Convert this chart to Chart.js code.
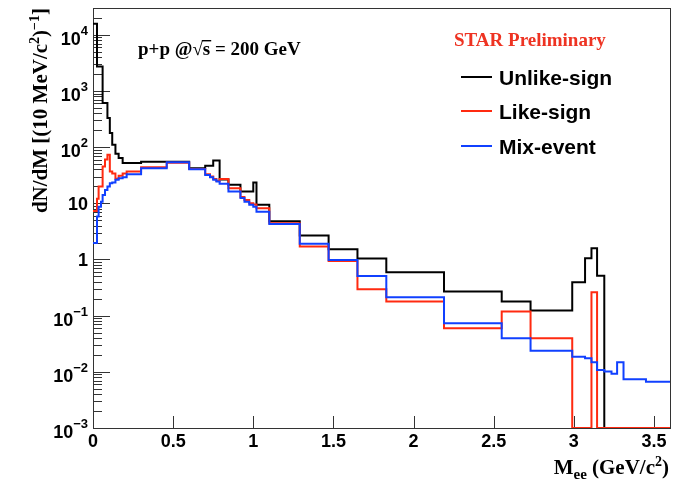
<!DOCTYPE html>
<html>
<head>
<meta charset="utf-8">
<script src="https://cdn.jsdelivr.net/npm/chart.js@4.4.0/dist/chart.umd.min.js"></script>
<style>
  html, body { margin: 0; padding: 0; background: #fff; }
  canvas { display: block; }
</style>
</head>
<body>
<canvas id="massChart" width="681" height="481"></canvas>
<script>
// dielectron invariant mass, p+p at 200 GeV
// variable bin edges in GeV/c^2 (fine binning near threshold)
const massEdges = [0, 0.025, 0.035, 0.05, 0.06, 0.075, 0.09, 0.105, 0.12, 0.14, 0.16, 0.185, 0.21, 0.30,
  0.46, 0.60, 0.70, 0.73, 0.75, 0.77, 0.79, 0.845, 0.92, 0.945, 0.975, 1.0, 1.02, 1.10, 1.29, 1.47,
  1.65, 1.83, 2.19, 2.55, 2.73, 2.99, 3.07, 3.11, 3.145, 3.19, 3.235, 3.27, 3.31, 3.45, 3.6];

// dN/dM per bin, 0 = empty bin
const unlikeSign = [15700, 2730, 2730, 2730, 608, 608, 329, 178, 110, 76, 64, 52, 52, 55,
  55, 42, 46.5, 46.5, 57.7, 57.7, 26.5, 21.3, 16.2, 16.2, 16.2, 23.4, 9.4, 4.77, 2.66,
  1.52, 1.04, 0.593, 0.268, 0.178, 0.123, 0.394, 1.05, 1.59, 0.516, 0, 0, 0, 0, 0];
const likeSign = [7.3, 12, 20, 20, 45, 60, 73, 37, 34, 27.5, 31, 34, 37, 44,
  53, 41, 33, 30, 27, 25, 27, 18.6, 13, 11.5, 10, 9.5, 8.2, 4.4, 1.70,
  0.94, 0.296, 0.178, 0.0597, 0.118, 0.0396, 0, 0, 0.261, 0, 0, 0, 0, 0, 0];
const mixEvent = [1.97, 5.8, 8.7, 10.7, 14.1, 17.3, 19.9, 22.8, 23.4, 26.2, 28, 29, 33, 42.3,
  54, 40.6, 32, 29.2, 26.2, 24.4, 22.2, 16.2, 12.4, 10.7, 9.4, 8.7, 7.1, 4.3, 1.90,
  0.98, 0.51, 0.213, 0.073, 0.0396, 0.0238, 0.0186, 0.0175, 0.0148, 0.0108, 0.0101, 0.0092, 0.0148, 0.00736, 0.00668];

const seriesNames = ["Unlike-sign", "Like-sign", "Mix-event"];
const seriesColors = ["#000000", "#ff2a10", "#1040ff"];

const yMin = 1e-3, yMax = 3e4;
const yDecades = [1e-3, 1e-2, 1e-1, 1, 10, 1e2, 1e3, 1e4];
// decade labels as [mantissa, exponent]
const yTickLabels = [["10", "-3"], ["10", "-2"], ["10", "-1"], ["1", ""], ["10", ""], ["10", "2"], ["10", "3"], ["10", "4"]];
const xMin = 0, xMax = 3.6;
const xTickLabels = ["0", "0.5", "1", "1.5", "2", "2.5", "3", "3.5"];

const SANS = '"Liberation Sans", Arial, Helvetica, sans-serif';
const SERIF = '"Liberation Serif", "Times New Roman", Times, serif';

// outline of a histogram as a polyline; empty bins sit on the axis floor
function histPoints(values) {
  const pts = [];
  values.forEach((v, i) => {
    const y = v > 0 ? v : yMin;
    pts.push({ x: massEdges[i], y: y }, { x: massEdges[i + 1], y: y });
  });
  return pts;
}

function histDataset(i, values) {
  return {
    label: seriesNames[i],
    data: histPoints(values),
    borderColor: seriesColors[i],
    borderWidth: 2,
    pointRadius: 0,
    tension: 0,
    fill: false,
    order: 3 - i
  };
}

// log ticks 1..9 x 10^k
const yTicks = [];
for (let e = -3; e <= 4; e++) {
  for (let m = 1; m <= 9; m++) {
    const v = m * Math.pow(10, e);
    if (v <= yMax * 1.0001) yTicks.push(Number(v.toPrecision(6)));
  }
}
const xTicks = [];
for (let i = 0; i <= 36; i++) xTicks.push(i / 10);

function isDecade(v) {
  return yDecades.findIndex(d => Math.abs(v / d - 1) < 1e-6);
}

// text runs with raised/lowered pieces: [text, fontSize, dy]
function runWidth(ctx, parts, family) {
  let w = 0;
  parts.forEach(p => { ctx.font = "bold " + p[1] + "px " + family; w += ctx.measureText(p[0]).width; });
  return w;
}
function drawRun(ctx, parts, family, x, y) {
  parts.forEach(p => {
    ctx.font = "bold " + p[1] + "px " + family;
    ctx.fillText(p[0], x, y + p[2]);
    x += ctx.measureText(p[0]).width;
  });
  return x;
}

// frame and inward tick marks, under the histograms
const rootFrame = {
  id: "rootFrame",
  beforeDatasetsDraw(chart) {
    const ctx = chart.ctx;
    const a = chart.chartArea;
    const xs = chart.scales.x, ys = chart.scales.y;
    ctx.save();
    ctx.strokeStyle = "#333";
    ctx.lineWidth = 1;
    ctx.strokeRect(Math.round(a.left) + 0.5, Math.round(a.top) + 0.5,
      Math.round(a.right - a.left), Math.round(a.bottom - a.top));
    ctx.beginPath();
    ys.ticks.forEach(t => {
      const py = Math.round(ys.getPixelForValue(t.value)) + 0.5;
      const len = isDecade(t.value) >= 0 ? 17 : 9;
      ctx.moveTo(a.left, py);
      ctx.lineTo(a.left + len, py);
    });
    xs.ticks.forEach(t => {
      const px = Math.round(xs.getPixelForValue(t.value)) + 0.5;
      const len = t.label ? 12 : 6;
      ctx.moveTo(px, a.bottom);
      ctx.lineTo(px, a.bottom - len);
    });
    ctx.stroke();
    ctx.restore();
  },
  afterDraw(chart) {
    const ctx = chart.ctx;
    const a = chart.chartArea;
    const ys = chart.scales.y;
    ctx.save();
    ctx.fillStyle = "#000";

    // decade labels on the log axis
    ctx.textBaseline = "alphabetic";
    ctx.textAlign = "left";
    yDecades.forEach((d, k) => {
      const py = ys.getPixelForValue(d);
      const [mant, ex] = yTickLabels[k];
      const parts = ex ? [[mant, 18, 0], [ex.replace("-", "\u2212"), 13, -10]] : [[mant, 18, 0]];
      const w = runWidth(ctx, parts, SANS);
      const base = py + (ex ? 10 : 6.5);
      drawRun(ctx, parts, SANS, a.left - 5 - w, base);
    });

    // y title
    ctx.save();
    ctx.translate(47, a.top);
    ctx.rotate(-Math.PI / 2);
    const yTitle = [["dN/dM [(10 MeV/c", 21, 0], ["2", 14, -8], [")", 21, 0], ["\u22121", 14, -8], ["]", 21, 0]];
    drawRun(ctx, yTitle, SERIF, -runWidth(ctx, yTitle, SERIF), 0);
    ctx.restore();

    // x title
    const xTitle = [["M", 21, 0], ["ee", 15, 5], [" (GeV/c", 21, 0], ["2", 14, -8], [")", 21, 0]];
    drawRun(ctx, xTitle, SERIF, a.right - 1 - runWidth(ctx, xTitle, SERIF), 474);

    // collision label with sqrt(s)
    ctx.font = "bold 19px " + SERIF;
    let px = 138;
    const py = 55;
    ctx.fillText("p+p @\u221A", px, py);
    px += ctx.measureText("p+p @\u221A").width;
    const wS = ctx.measureText("s").width;
    ctx.fillText("s", px, py);
    ctx.fillRect(px - 1, py - 15, wS + 2, 1.4);
    px += wS;
    ctx.fillText(" = 200 GeV", px, py);

    ctx.fillStyle = "#ee3322";
    ctx.font = "bold 19px " + SERIF;
    ctx.fillText("STAR Preliminary", 454, 46);

    // legend
    const legendY = [77, 111, 146];
    ctx.font = "bold 21px " + SANS;
    seriesNames.forEach((name, i) => {
      ctx.strokeStyle = seriesColors[i];
      ctx.lineWidth = 2;
      ctx.beginPath();
      ctx.moveTo(461, legendY[i]);
      ctx.lineTo(492, legendY[i]);
      ctx.stroke();
      ctx.fillStyle = "#000";
      ctx.fillText(name, 499, legendY[i] + 7.5);
    });

    ctx.restore();
  }
};

new Chart(document.getElementById("massChart").getContext("2d"), {
  type: "line",
  data: {
    datasets: [
      histDataset(0, unlikeSign),
      histDataset(1, likeSign),
      histDataset(2, mixEvent)
    ]
  },
  options: {
    responsive: false,
    animation: false,
    devicePixelRatio: 1,
    layout: { padding: { left: 0, right: 11, top: 8, bottom: 0 } },
    plugins: { legend: { display: false }, tooltip: { enabled: false } },
    scales: {
      x: {
        type: "linear",
        min: xMin,
        max: xMax,
        afterBuildTicks: scale => { scale.ticks = xTicks.map(v => ({ value: v })); },
        afterFit: scale => { scale.height = 53; },
        grid: { display: false, drawTicks: false },
        border: { display: false },
        ticks: {
          autoSkip: false,
          maxRotation: 0,
          padding: 3,
          color: "#000",
          font: { family: SANS, size: 18, weight: "bold" },
          callback: v => {
            const k = Math.round(v * 10);
            return k % 5 === 0 ? xTickLabels[k / 5] : null;
          }
        }
      },
      y: {
        type: "logarithmic",
        min: yMin,
        max: yMax,
        afterBuildTicks: scale => { scale.ticks = yTicks.map(v => ({ value: v })); },
        afterFit: scale => { scale.width = 93; },
        grid: { display: false, drawTicks: false },
        border: { display: false },
        ticks: { display: false, autoSkip: false }
      }
    }
  },
  plugins: [rootFrame]
});
</script>
</body>
</html>
